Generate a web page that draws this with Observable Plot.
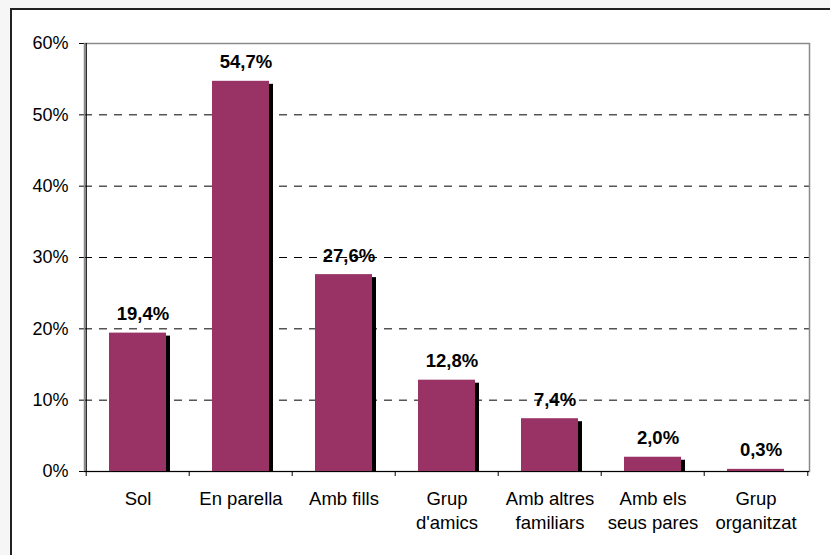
<!DOCTYPE html>
<html>
<head>
<meta charset="utf-8">
<script src="https://cdn.jsdelivr.net/npm/d3@7"></script>
<script src="https://cdn.jsdelivr.net/npm/@observablehq/plot@0.6"></script>
<style>
  html, body { margin: 0; padding: 0; background: #f6f6f6; }
  #wrap { position: relative; width: 830px; height: 555px; overflow: hidden; }
  #frame { position: absolute; left: 10px; top: 8px; width: 840px; height: 570px; background: #fff; border-left: 2px solid #222; border-top: 2px solid #222; }
  #chart { position: absolute; left: 0; top: 0; }
</style>
</head>
<body>
<div id="wrap"><div id="frame"></div><div id="chart"></div></div>
<script>
const categories = ["Sol", "En parella", "Amb fills", "Grup d'amics", "Amb altres familiars", "Amb els seus pares", "Grup organitzat"];
const labels = ["Sol", "En parella", "Amb fills", "Grup\nd'amics", "Amb altres\nfamiliars", "Amb els\nseus pares", "Grup\norganitzat"];
const values = [19.4, 54.7, 27.6, 12.8, 7.4, 2.0, 0.3];
const yTicks = [0, 10, 20, 30, 40, 50, 60];

const data = categories.map((c, i) => ({cat: c, label: labels[i], value: values[i]}));
const W = 830, H = 555, mL = 84, mR = 21, mT = 43, mB = 84;
const step = (W - mL - mR) / categories.length;
const fmt = v => v.toFixed(1).replace(".", ",") + "%";

const chart = Plot.plot({
  width: W, height: H,
  marginLeft: mL, marginRight: mR, marginTop: mT, marginBottom: mB,
  style: {background: "transparent", fontFamily: "'Liberation Sans', Arial, sans-serif", fontSize: "18px", color: "#000"},
  x: {domain: categories, paddingInner: 0.45, paddingOuter: 0.225, axis: null},
  y: {domain: [0, 60], ticks: yTicks, tickSize: 5, tickPadding: 11, tickFormat: d => d + "%", label: null},
  marks: [
    Plot.ruleY(yTicks.filter(d => d > 0 && d < 60), {stroke: "#000", strokeDasharray: "8,7", strokeWidth: 1}),
    Plot.frame({stroke: "#8a8a8a", strokeWidth: 1.5}),
    Plot.barY(data, {x: "cat", y: "value", fill: "#000", dx: 4, dy: 3, insetBottom: 3}),
    Plot.barY(data, {x: "cat", y: "value", fill: "#993366"}),
    Plot.ruleY([0], {stroke: "#000", strokeWidth: 1.2}),
    Plot.ruleX([categories[0]], {y1: 0, y2: 60, dx: -step / 2, stroke: "#000", strokeWidth: 1.2}),
    Plot.ruleX(categories, {y1: -0.7, y2: 0, dx: -step / 2, stroke: "#000"}),
    Plot.ruleX([categories[categories.length - 1]], {y1: -0.7, y2: 0, dx: step / 2, stroke: "#000"}),
    Plot.text(data, {x: "cat", y: "value", text: d => fmt(d.value), dy: -19, dx: 5, fontWeight: "bold", fontSize: 18.5, fill: "#000"}),
    Plot.text(data, {x: "cat", y: 0, text: "label", lineAnchor: "top", dy: 16, lineHeight: 1.3, fontSize: 18.5, fill: "#000"})
  ]
});
document.getElementById("chart").appendChild(chart);
</script>
</body>
</html>
